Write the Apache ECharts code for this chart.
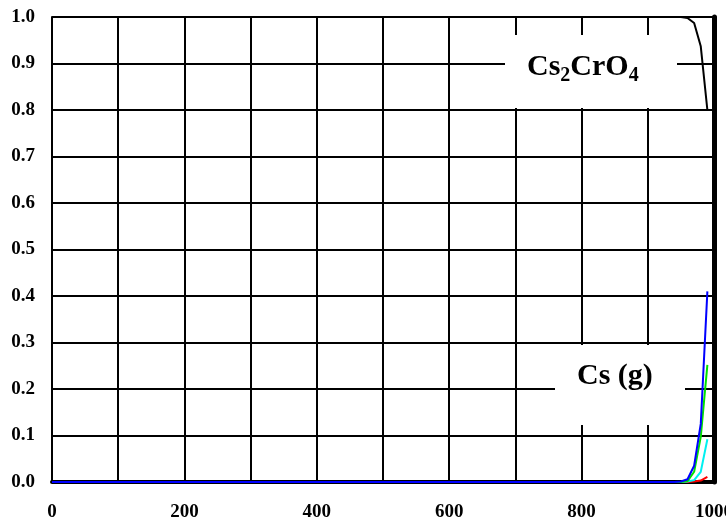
<!DOCTYPE html>
<html>
<head>
<meta charset="utf-8">
<script src="https://cdn.jsdelivr.net/npm/echarts@6/dist/echarts.min.js"></script>
<style>
html,body{margin:0;padding:0;background:#fff;}
#chart{width:726px;height:518px;}
</style>
</head>
<body>
<div id="chart"></div>
<script>
// ---- data ----
var xValues = [0, 900, 940, 950, 960, 970, 980, 990];
var cs2cro4 = [1.0, 1.0, 1.0, 1.0, 0.998, 0.987, 0.937, 0.80];
var csRed   = [0, 0, 0, 0, 0, 0.001, 0.003, 0.011];
var csCyan  = [0, 0, 0, 0, 0.001, 0.004, 0.022, 0.092];
var csGreen = [0, 0, 0, 0, 0.002, 0.022, 0.097, 0.252];
var csBlue  = [0, 0, 0, 0.001, 0.006, 0.035, 0.125, 0.41];
var xTickLabels = ['0', '200', '400', '600', '800', '1000'];
var labelCs2CrO4 = ['Cs', '2', 'CrO', '4'];
var labelCsGas = 'Cs (g)';

function pairs(ys) { return xValues.map(function (x, i) { return [x, ys[i]]; }); }

var FONT = '"Liberation Serif", "Times New Roman", serif';
var chart = echarts.init(document.getElementById('chart'), null, {renderer: 'canvas'});

function lineSeries(ys, color, z) {
  return {
    type: 'line', data: pairs(ys), showSymbol: false, smooth: false,
    lineStyle: {color: color, width: 2}, z: z, animation: false, clip: false
  };
}

chart.setOption({
  animation: false,
  backgroundColor: '#fff',
  grid: {left: 52, right: 12, top: 17, bottom: 36, containLabel: false, outerBoundsMode: 'none'},
  xAxis: {
    type: 'value', min: 0, max: 1000, interval: 100,
    axisLine: {show: true, onZero: false, lineStyle: {color: '#000', width: 4}},
    axisTick: {show: false},
    splitLine: {show: true, lineStyle: {color: '#000', width: 2}},
    axisLabel: {
      margin: 21, color: '#000', fontFamily: FONT, fontWeight: 'bold', fontSize: 19,
      hideOverlap: false,
      formatter: function (v) {
        var i = xTickLabels.indexOf(String(v));
        return i >= 0 ? xTickLabels[i] : '';
      }
    }
  },
  yAxis: [{
    type: 'value', min: 0, max: 1, interval: 0.1,
    axisLine: {show: true, lineStyle: {color: '#000', width: 2}},
    axisTick: {show: false},
    splitLine: {show: true, lineStyle: {color: '#000', width: 2}},
    axisLabel: {
      margin: 17, color: '#000', fontFamily: FONT, fontWeight: 'bold', fontSize: 19,
      padding: [6, 0, 0, 0],
      formatter: function (v) { return v.toFixed(1); }
    }
  }, {
    type: 'value', min: 0, max: 1, interval: 0.1, position: 'right',
    axisLine: {show: true, lineStyle: {color: '#000', width: 5}},
    axisTick: {show: false}, axisLabel: {show: false}, splitLine: {show: false}
  }],
  series: [
    lineSeries(cs2cro4, '#000000', 3),
    lineSeries(csRed, '#ff0000', 4),
    lineSeries(csCyan, '#00f0f0', 5),
    lineSeries(csGreen, '#00e000', 6),
    lineSeries(csBlue, '#0000ff', 7)
  ],
  graphic: [
    {type: 'rect', z: 100, shape: {x: 505, y: 35, width: 172, height: 73}, style: {fill: '#fff'}},
    {type: 'text', z: 101, left: 527, top: 52,
      style: {
        text: '{a|' + labelCs2CrO4[0] + '}{s|' + labelCs2CrO4[1] + '}{a|' + labelCs2CrO4[2] + '}{s|' + labelCs2CrO4[3] + '}',
        rich: {
          a: {fontFamily: FONT, fontWeight: 'bold', fontSize: 30, fill: '#000', lineHeight: 38, verticalAlign: 'middle'},
          s: {fontFamily: FONT, fontWeight: 'bold', fontSize: 20, fill: '#000', lineHeight: 22, verticalAlign: 'bottom'}
        }
      }},
    {type: 'rect', z: 100, shape: {x: 555, y: 345, width: 130, height: 80}, style: {fill: '#fff'}},
    {type: 'text', z: 101, left: 577, top: 361,
      style: {text: labelCsGas, fontFamily: FONT, fontWeight: 'bold', fontSize: 30, fill: '#000'}}
  ]
});
</script>
</body>
</html>
